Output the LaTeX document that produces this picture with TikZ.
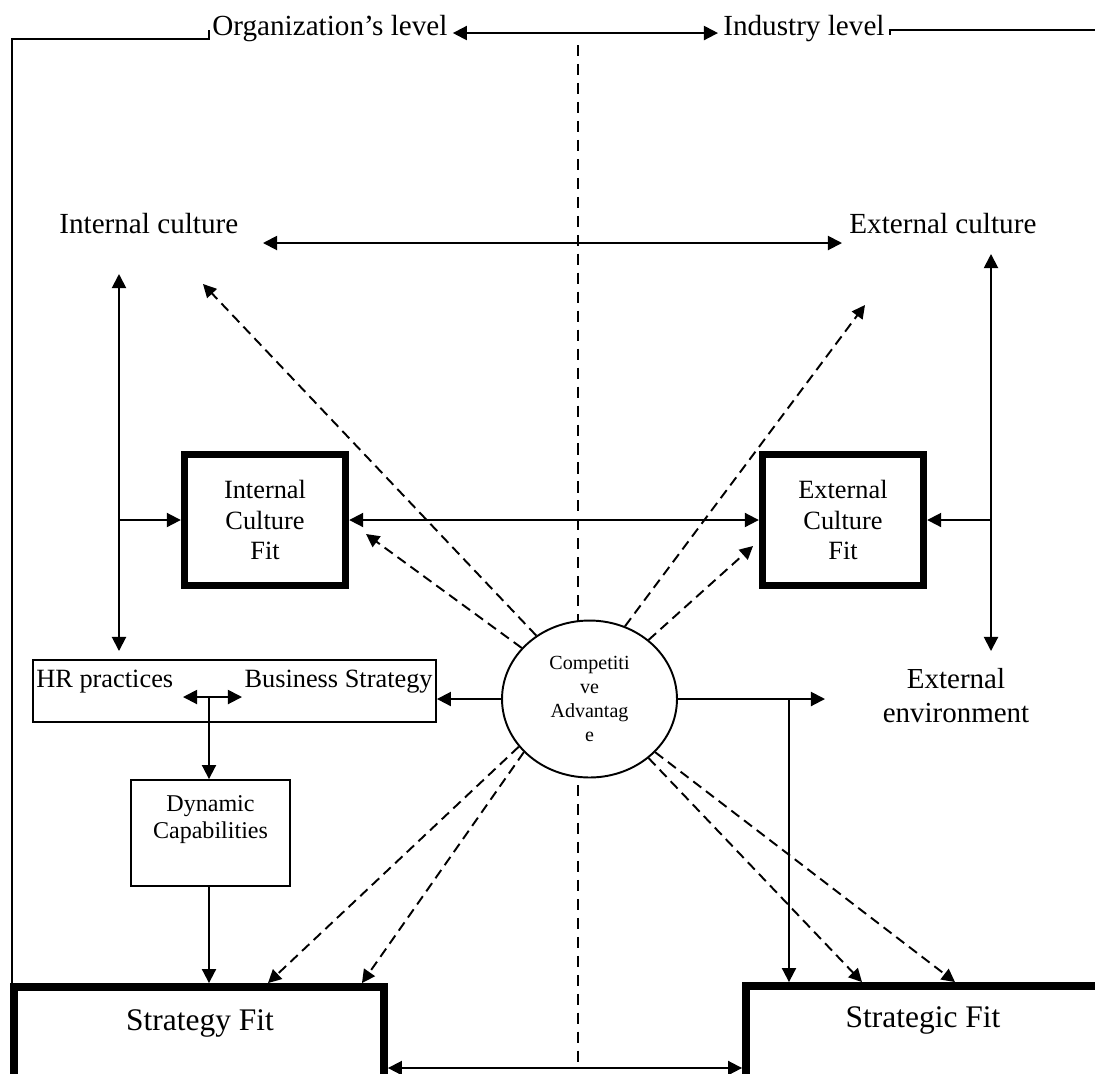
\documentclass[tikz,border=0pt]{standalone}
\usepackage{fontspec}
\setmainfont{Liberation Serif}
\usetikzlibrary{arrows.meta,shapes.geometric}
\tikzset{
  ln/.style={line width=1.1pt},
  arr/.style={ln,-{Triangle[length=8pt,width=8pt]}},
  dbl/.style={ln,{Triangle[length=8pt,width=8pt]}-{Triangle[length=8pt,width=8pt]}},
  dsh/.style={ln,dash pattern=on 5.7pt off 3.4pt,-{Triangle[length=7.5pt,width=7.5pt]}},
  fitbox/.style={draw,line width=4.2pt,minimum width=3.22cm,minimum height=2.62cm,align=center,font=\fontsize{15}{17.4}\selectfont},
  bigbox/.style={draw,line width=4.5pt,minimum height=2.46cm},
  thinbox/.style={draw,ln,inner sep=0pt},
  lbl/.style={inner sep=0.1cm,font=\fontsize{16.6}{19}\selectfont},
  boxtxt/.style={inner sep=0pt,font=\fontsize{15}{17.4}\selectfont},
  dyntxt/.style={inner sep=0pt,align=center,font=\fontsize{13.7}{15.4}\selectfont},
  fittxt/.style={inner sep=0pt,font=\fontsize{17.9}{21}\selectfont},
  envtxt/.style={inner sep=0pt,align=center,font=\fontsize{16.5}{19.3}\selectfont}
}
\begin{document}
\begin{tikzpicture}[x=0.02cm,y=-0.02cm]
    \useasboundingbox (0,0) rectangle (1095,1073);
    \clip (0,0) rectangle (1095,1073);
    \draw[ln,dash pattern=on 6.3pt off 4.5pt] (578,45) -- (578,1066);

    \node[lbl,anchor=base west] (org) at (207,35) {Organization’s level};
    \node[lbl,anchor=base west] (ind) at (718,35) {Industry level};
    \draw[dbl] ([yshift=-0.1cm]org.east) -- ([yshift=-0.1cm]ind.west);
    \coordinate (bl) at (209,30); \coordinate (br) at (890,30);
    \draw[ln] (12,983) |- ([yshift=-0.18cm]bl) -- (bl);
    \draw[ln] ([yshift=-0.1cm]br) -- (br) -- (1100,30);

    \node[lbl,anchor=base west] (intcul) at (54,233) {Internal culture};
    \node[lbl,anchor=base west] (extcul) at (844,233) {External culture};
    \coordinate (icl) at (263,243); \coordinate (icr) at (842,243);
    \draw[dbl] (icl) -- (icr);

    \node[fitbox] (icf) at (265,520) {Internal\\Culture\\Fit};
    \node[fitbox] (ecf) at (843,520) {External\\Culture\\Fit};
    \draw[dbl] (icf) -- (ecf);
    \coordinate (lt) at (119,274); \coordinate (lb) at (119,651);
    \draw[dbl] (lt) -- (lb);
    \draw[arr] (lt |- icf) -- (icf);
    \coordinate (rt) at (991,254); \coordinate (rb) at (991,651);
    \draw[dbl] (rt) -- (rb);
    \draw[arr] (rt |- ecf) -- (ecf);

    \node[thinbox,minimum width=8.06cm,minimum height=1.24cm] (hr) at (234.5,691) {};
    \node[boxtxt,anchor=base west] (hrp) at (36,687) {HR practices};
    \node[boxtxt,anchor=base east] (bst) at (433,687) {Business Strategy};
    \coordinate (hrl) at (183,697); \coordinate (hrr) at (242,697); \coordinate (hrm) at (209,697);
    \draw[dbl] (hrl) -- (hrr);
    \node[thinbox,minimum width=3.18cm,minimum height=2.12cm] (dyn) at (210.5,833) {};
    \node[dyntxt,anchor=north] (dynlbl) at (210.5,795) {Dynamic\\Capabilities};
    \draw[arr] (hrm) -- (hrm |- dyn.north);

    \node[bigbox,minimum width=7.4cm] (sft) at (199,1048.5) {};
    \node[fittxt,anchor=base] (sftlbl) at (200,1030) {Strategy Fit};
    \node[bigbox,minimum width=7.08cm] (sfr) at (923,1047.5) {};
    \node[fittxt,anchor=base] (sfrlbl) at (923,1027) {Strategic Fit};
    \coordinate (bot) at (578,1068);
    \draw[dbl] (sft.east |- bot) -- (sfr.west |- bot);
    \draw[arr] (hrm |- dyn.south) -- (hrm |- sft.north);

    \node[draw,ln,fill=white,ellipse,minimum width=3.5cm,minimum height=3.14cm,inner sep=0pt,align=center,font=\fontsize{11.4}{13.7}\selectfont] (cav) at (589.5,699) {Competiti\\ve\\Advantag\\e};
    \node[envtxt] (env) at (956,696) {External\\environment};
    \draw[arr] (cav.west) -- (cav.west -| hr.east);
    \coordinate (envtip) at (825,699); \coordinate (rj) at (789,699);
    \draw[arr] (cav.east) -- (envtip);
    \draw[arr] (rj) -- (rj |- sfr.north);

    \coordinate (d1) at (203,284); \coordinate (d2) at (366,534);
    \coordinate (d3) at (865,305); \coordinate (d4) at (753,546);
    \draw[dsh] (cav.130) -- (d1);
    \draw[dsh] (cav.143) -- (d2);
    \draw[dsh] (cav.64) -- (d3);
    \draw[dsh] (cav.45) -- (d4);
    \draw[dsh] (cav.214) -- ([xshift=1.38cm]sft.north);
    \draw[dsh] (cav.219) -- ([xshift=3.26cm]sft.north);
    \draw[dsh] (cav.315) -- ([xshift=-1.22cm]sfr.north);
    \draw[dsh] (cav.321) -- ([xshift=0.64cm]sfr.north);
\end{tikzpicture}
\end{document}
